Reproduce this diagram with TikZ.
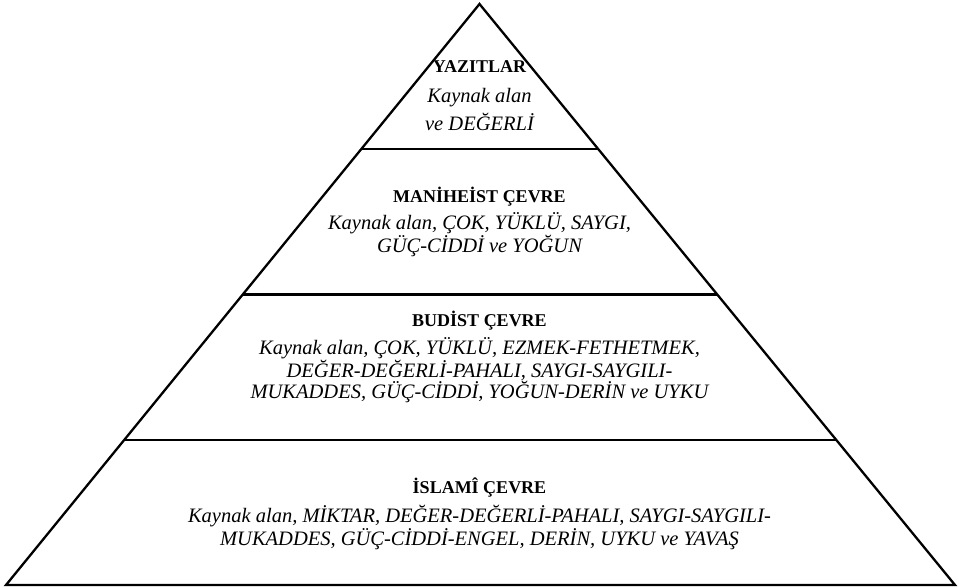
\documentclass[tikz,border=0pt]{standalone}
\usepackage{fontspec}
\setmainfont{Liberation Serif}
\usetikzlibrary{calc,positioning}
\tikzset{
    % Line styles
    pyramid line/.style={
        draw=black,
        line width=2.3pt,
        line join=miter
    },
    % Text styles
    level title/.style={
        font=\rmfamily\fontsize{18}{20}\selectfont\bfseries,
        inner sep=0pt,
        align=center
    },
    level text/.style={
        font=\rmfamily\fontsize{20.5}{21}\selectfont\itshape,
        inner sep=0pt,
        align=center
    }
}
\begin{document}
\begin{tikzpicture}[x=1pt, y=-1pt]
        \useasboundingbox (0,0) rectangle (959,587);
        % Corners
        \coordinate (apex) at (479.5,4);
        \coordinate (bottomleft) at (6,585);
        \coordinate (bottomright) at (955,585);
        \coordinate (l1) at ($(apex)!0.25!(bottomleft)$);
        \coordinate (r1) at ($(apex)!0.25!(bottomright)$);
        \coordinate (l2) at ($(apex)!0.5!(bottomleft)$);
        \coordinate (r2) at ($(apex)!0.5!(bottomright)$);
        \coordinate (l3) at ($(apex)!0.75!(bottomleft)$);
        \coordinate (r3) at ($(apex)!0.75!(bottomright)$);

        % Pyramid
        \draw[pyramid line] (apex) -- (bottomleft) -- (bottomright) -- cycle;
        \draw[pyramid line] (l1) -- (r1);
        \draw[pyramid line] (l2) -- (r2);
        \draw[pyramid line] (l3) -- (r3);

        % Nodes
        \node[level title] (yazitlar) at (479.5,67) {YAZITLAR};
        \node[level text, font=\rmfamily\fontsize{20.5}{28}\selectfont\itshape] (yazitlartext) at (479.5,109) {Kaynak alan\\ve DEĞERLİ};
        \node[level title] (maniheist) at (479.5,197) {MANİHEİST ÇEVRE};
        \node[level text] (maniheisttext) at (479.5,234.5) {Kaynak alan, ÇOK, YÜKLÜ, SAYGI,\\GÜÇ-CİDDİ ve YOĞUN};
        \node[level title] (budist) at (479.5,321) {BUDİST ÇEVRE};
        \node[level text] (budisttext) at (479.5,370) {Kaynak alan, ÇOK, YÜKLÜ, EZMEK-FETHETMEK,\\DEĞER-DEĞERLİ-PAHALI, SAYGI-SAYGILI-\\MUKADDES, GÜÇ-CİDDİ, YOĞUN-DERİN ve UYKU};
        \node[level title] (islami) at (479.5,488) {İSLAMÎ ÇEVRE};
        \node[level text, font=\rmfamily\fontsize{20.5}{23}\selectfont\itshape] (islamitext) at (479.5,527.5) {Kaynak alan, MİKTAR, DEĞER-DEĞERLİ-PAHALI, SAYGI-SAYGILI-\\MUKADDES, GÜÇ-CİDDİ-ENGEL, DERİN, UYKU ve YAVAŞ};
    \end{tikzpicture}
\end{document}
